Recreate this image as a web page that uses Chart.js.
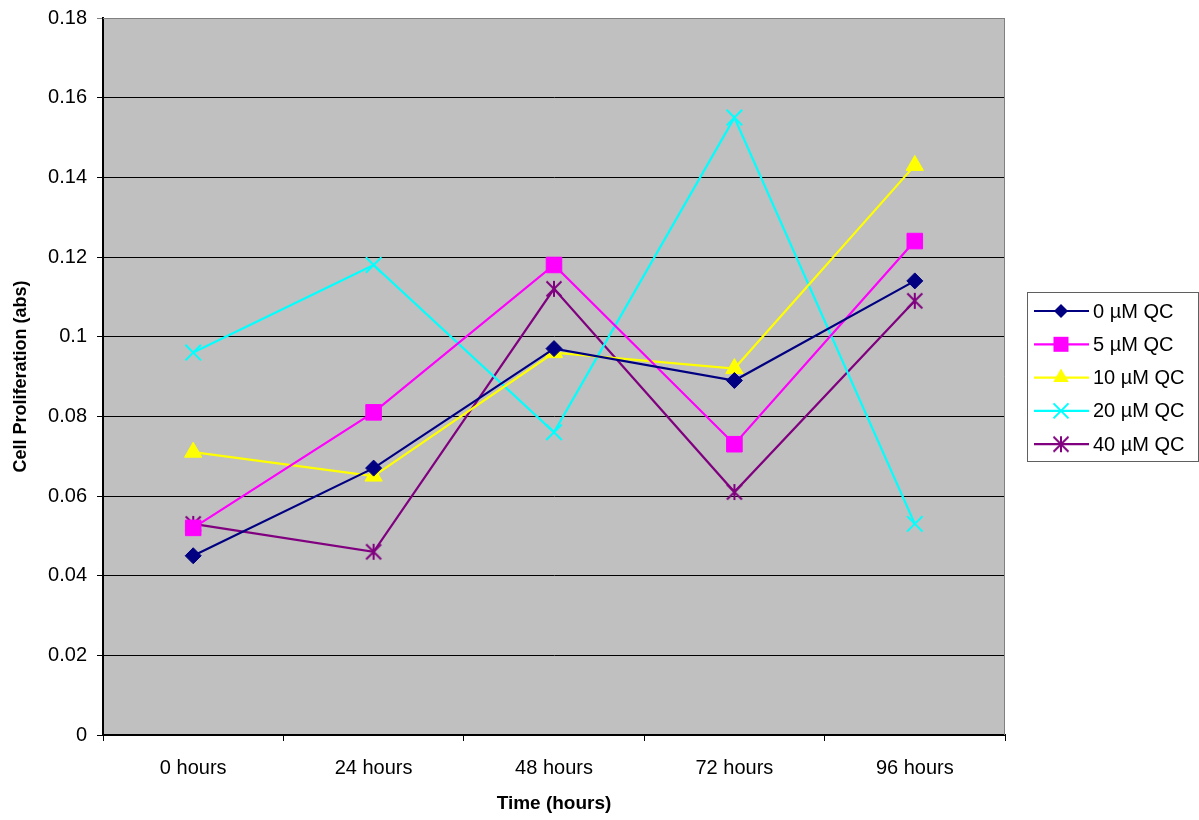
<!DOCTYPE html>
<html>
<head>
<meta charset="utf-8">
<script src="https://cdn.jsdelivr.net/npm/chart.js@4/dist/chart.umd.min.js"></script>
<style>
html,body{margin:0;padding:0;background:#fff;}
#wrap{position:relative;width:1199px;height:820px;}
</style>
</head>
<body>
<div id="wrap"><canvas id="c" width="1199" height="820"></canvas></div>
<script>
const categories = ['0 hours', '24 hours', '48 hours', '72 hours', '96 hours'];
const seriesNames = ['0 µM QC', '5 µM QC', '10 µM QC', '20 µM QC', '40 µM QC'];
const qc0  = [0.045, 0.067, 0.097, 0.089, 0.114];
const qc5  = [0.052, 0.081, 0.118, 0.073, 0.124];
const qc10 = [0.071, 0.065, 0.096, 0.092, 0.143];
const qc20 = [0.096, 0.118, 0.076, 0.155, 0.053];
const qc40 = [0.053, 0.046, 0.112, 0.061, 0.109];
const yTicks = [0, 0.02, 0.04, 0.06, 0.08, 0.1, 0.12, 0.14, 0.16, 0.18];

const colors = ['#000080', '#FF00FF', '#FFFF00', '#00FFFF', '#800080'];
const FONT = 'Arial, "Liberation Sans", sans-serif';

// custom asterisk marker (X plus vertical bar)
function makeStar(color, size) {
  const c = document.createElement('canvas');
  c.width = size; c.height = size;
  const g = c.getContext('2d');
  g.strokeStyle = color; g.lineWidth = 2;
  const m = size / 2, r = size / 2 - 1.5;
  g.beginPath();
  g.moveTo(m - r, m - r); g.lineTo(m + r, m + r);
  g.moveTo(m + r, m - r); g.lineTo(m - r, m + r);
  g.moveTo(m, 1); g.lineTo(m, size - 1);
  g.stroke();
  return c;
}
const starImg = makeStar('#800080', 18);

const styles = [
  {pointStyle: 'rectRot', radius: 8},
  {pointStyle: 'rect', radius: 11},
  {pointStyle: 'triangle', radius: 10},
  {pointStyle: 'crossRot', radius: 11},
  {pointStyle: starImg, radius: 9}
];
const values = [qc0, qc5, qc10, qc20, qc40];

const datasets = values.map((v, i) => ({
  label: seriesNames[i],
  data: v,
  borderColor: colors[i],
  backgroundColor: colors[i],
  borderWidth: 2.2,
  pointStyle: styles[i].pointStyle,
  pointRadius: styles[i].radius,
  pointHoverRadius: styles[i].radius,
  pointBorderWidth: (i === 3) ? 2 : 1,
  pointBackgroundColor: colors[i],
  pointBorderColor: colors[i],
  tension: 0,
  fill: false
}));

const bgPlugin = {
  id: 'bg',
  beforeDraw(chart) {
    const {ctx, chartArea: a} = chart;
    ctx.save();
    ctx.fillStyle = '#C0C0C0';
    ctx.fillRect(a.left, a.top, a.right - a.left, a.bottom - a.top);
    ctx.restore();
  },
  afterDatasetsDraw(chart) {
    const {ctx, chartArea: a} = chart;
    ctx.save();
    ctx.strokeStyle = '#808080';
    ctx.lineWidth = 1;
    ctx.beginPath();
    ctx.moveTo(a.left, a.top + 0.5); ctx.lineTo(a.right - 0.5, a.top + 0.5); ctx.lineTo(a.right - 0.5, a.bottom);
    ctx.stroke();
    ctx.restore();
  }
};

function drawMarker(ctx, i, x, y) {
  const col = colors[i];
  ctx.save();
  ctx.fillStyle = col; ctx.strokeStyle = col; ctx.lineWidth = 2;
  ctx.beginPath();
  if (i === 0) {
    const r = 7;
    ctx.moveTo(x, y - r); ctx.lineTo(x + r, y); ctx.lineTo(x, y + r); ctx.lineTo(x - r, y); ctx.closePath(); ctx.fill();
  } else if (i === 1) {
    ctx.rect(x - 7.5, y - 7.5, 15, 15); ctx.fill();
  } else if (i === 2) {
    const r = 9;
    ctx.moveTo(x, y - r); ctx.lineTo(x + r * 0.866, y + r * 0.5); ctx.lineTo(x - r * 0.866, y + r * 0.5); ctx.closePath(); ctx.fill();
  } else if (i === 3) {
    const r = 7.5;
    ctx.moveTo(x - r, y - r); ctx.lineTo(x + r, y + r); ctx.moveTo(x + r, y - r); ctx.lineTo(x - r, y + r); ctx.stroke();
  } else {
    ctx.drawImage(starImg, x - 9, y - 9);
  }
  ctx.restore();
}

const legendPlugin = {
  id: 'customLegend',
  afterDraw(chart) {
    const ctx = chart.ctx;
    const bx = 1027.5, by = 292.5, bw = 171, bh = 169;
    ctx.save();
    ctx.fillStyle = '#fff';
    ctx.fillRect(bx, by, bw, bh);
    ctx.strokeStyle = '#606060';
    ctx.lineWidth = 1;
    ctx.strokeRect(bx, by, bw, bh);
    ctx.font = '20px ' + FONT;
    ctx.textBaseline = 'middle';
    ctx.fillStyle = '#000';
    seriesNames.forEach((name, i) => {
      const y = 311 + i * 33.3;
      ctx.strokeStyle = colors[i];
      ctx.lineWidth = 2.2;
      ctx.beginPath(); ctx.moveTo(1034, y); ctx.lineTo(1089, y); ctx.stroke();
      drawMarker(ctx, i, 1061, y);
      ctx.fillStyle = '#000';
      ctx.fillText(name, 1093, y + 1);
    });
    ctx.restore();
  }
};

new Chart(document.getElementById('c'), {
  type: 'line',
  data: { labels: categories, datasets },
  plugins: [bgPlugin, legendPlugin],
  options: {
    responsive: false,
    animation: false,
    events: [],
    layout: { padding: { top: 18, right: 194, left: 0, bottom: 0 } },
    plugins: { legend: { display: false }, tooltip: { enabled: false } },
    scales: {
      x: {
        type: 'category',
        offset: true,
        afterFit(s) { s.height = 85; s.paddingLeft = 0; s.paddingRight = 0; },
        border: { display: true, color: '#000', width: 2 },
        grid: { offset: true, drawOnChartArea: false, drawTicks: true, tickLength: 6, color: '#000' },
        ticks: { color: '#000', font: { family: FONT, size: 20 }, padding: 15, maxRotation: 0 },
        title: { display: true, text: 'Time (hours)', color: '#000', font: { family: FONT, size: 19, weight: 'bold' }, padding: { top: 0, bottom: 5 } }
      },
      y: {
        min: 0, max: 0.18,
        afterFit(s) { s.width = 103; s.paddingTop = 0; s.paddingBottom = 0; },
        afterBuildTicks(s) { s.ticks = yTicks.map(v => ({ value: v })); },
        border: { display: true, color: '#000', width: 2 },
        grid: {
          drawTicks: true, tickLength: 6,
          color: c => (c.tick && Math.abs(c.tick.value - 0.18) < 1e-9) ? '#808080' : '#000',
          lineWidth: 1
        },
        ticks: {
          color: '#000', font: { family: FONT, size: 20 }, padding: 10,
          callback: v => String(+(+v).toFixed(2))
        },
        title: { display: true, text: 'Cell Proliferation (abs)', color: '#000', font: { family: FONT, size: 18, weight: 'bold' }, padding: { top: 10, bottom: 0 } }
      }
    }
  }
});
</script>
</body>
</html>
